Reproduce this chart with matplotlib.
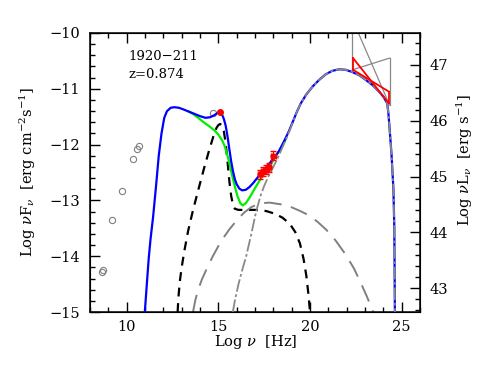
import matplotlib
matplotlib.use("Agg")
import matplotlib.pyplot as plt
from matplotlib.ticker import MultipleLocator

plt.rcParams['font.family'] = ['DejaVu Serif']
plt.rcParams['mathtext.fontset'] = 'dejavuserif'

# total model (blue)
tot_x = [10.99, 11.1, 11.2, 11.3, 11.44, 11.6, 11.75, 11.9, 12.05, 12.2, 12.4, 12.6, 12.85, 13.1,
         13.4, 13.7, 14.0, 14.3, 14.55, 14.8, 15.0, 15.1, 15.2, 15.3, 15.4, 15.5, 15.6, 15.7, 15.8,
         15.9, 16.0, 16.15, 16.3, 16.5, 16.7, 16.9, 17.24, 17.6, 17.96, 18.3, 18.6, 18.85, 19.05,
         19.3, 19.5, 19.8, 20.14, 20.5, 20.86, 21.2, 21.59, 21.95, 22.31, 22.7, 23.04, 23.4, 23.76,
         24.0, 24.21, 24.28, 24.35, 24.45, 24.55, 24.6, 24.63]
tot_y = [-15.0, -14.5, -14.05, -13.7, -13.3, -12.75, -12.2, -11.8, -11.52, -11.4, -11.34, -11.33,
         -11.34, -11.37, -11.41, -11.45, -11.49, -11.52, -11.51, -11.47, -11.42, -11.42, -11.46,
         -11.54, -11.66, -11.85, -12.08, -12.3, -12.48, -12.62, -12.71, -12.79, -12.82, -12.81,
         -12.76, -12.69, -12.55, -12.41, -12.27, -12.12, -11.93, -11.76, -11.6, -11.4, -11.26,
         -11.1, -10.96, -10.84, -10.74, -10.68, -10.65, -10.66, -10.70, -10.76, -10.84, -10.93,
         -11.05, -11.14, -11.26, -11.45, -11.75, -12.19, -12.8, -13.5, -15.0]

# synchrotron + disc (green), differs from total between 13.4 and 18.7
grn_x = [13.4, 13.62, 13.9, 14.2, 14.5, 14.8, 15.0, 15.2, 15.35, 15.5, 15.6, 15.75, 15.9, 16.05,
         16.2, 16.33, 16.5, 16.7, 17.0, 17.3, 17.6, 17.9, 18.2, 18.5, 18.7]
grn_y = [-11.41, -11.45, -11.52, -11.6, -11.67, -11.75, -11.82, -11.92, -12.03, -12.2, -12.33,
         -12.55, -12.75, -12.93, -13.05, -13.09, -13.05, -12.95, -12.78, -12.62, -12.48, -12.33,
         -12.18, -12.02, -11.89]

# accretion disc + corona (black dashed)
disk_x = [12.78, 12.82, 12.9, 13.0, 13.15, 13.35, 13.6, 13.9, 14.2, 14.5, 14.75, 14.9, 15.0, 15.1,
          15.2, 15.3, 15.4, 15.5, 15.6, 15.7, 15.8, 15.9, 16.1, 17.0, 17.6, 18.1, 18.5, 18.9, 19.2,
          19.45, 19.65, 19.8, 19.92, 20.0]
disk_y = [-15.0, -14.75, -14.45, -14.2, -13.9, -13.55, -13.2, -12.82, -12.45, -12.1, -11.83, -11.7,
          -11.65, -11.63, -11.66, -11.76, -11.97, -12.3, -12.65, -12.92, -13.08, -13.15, -13.17,
          -13.17, -13.19, -13.24, -13.31, -13.42, -13.57, -13.77, -14.05, -14.35, -14.7, -15.0]

# SSC (gray long dashes)
ssc_x = [13.62, 13.75, 13.9, 14.1, 14.4, 14.7, 15.0, 15.3, 15.6, 16.0, 16.4, 16.8, 17.3, 17.8, 18.4,
         18.9, 19.4, 19.9, 20.4, 20.9, 21.4, 21.9, 22.4, 22.8, 23.1, 23.45]
ssc_y = [-15.0, -14.78, -14.6, -14.42, -14.2, -14.0, -13.82, -13.66, -13.52, -13.36, -13.22, -13.12,
         -13.05, -13.04, -13.07, -13.11, -13.18, -13.26, -13.38, -13.53, -13.72, -13.95, -14.22,
         -14.5, -14.72, -15.0]

# external Compton (gray dash-dot)
ec_x = [15.79, 15.9, 16.1, 16.3, 16.52, 16.8, 17.06, 17.3, 17.5, 17.75, 18.0, 18.3, 18.6, 18.85,
        19.05, 19.3, 19.5, 19.8, 20.14, 20.5, 20.86, 21.2, 21.59, 21.95, 22.31, 22.7, 23.04, 23.4,
        23.76, 24.0, 24.21, 24.28, 24.35, 24.45, 24.55, 24.6, 24.63]
ec_y = [-15.0, -14.8, -14.5, -14.25, -14.0, -13.6, -13.2, -12.92, -12.74, -12.56, -12.4, -12.2,
        -11.97, -11.78, -11.61, -11.4, -11.26, -11.1, -10.96, -10.84, -10.74, -10.68, -10.65,
        -10.66, -10.70, -10.76, -10.84, -10.93, -11.05, -11.14, -11.26, -11.45, -11.75, -12.19,
        -12.8, -13.5, -15.0]

# archival data (open gray circles)
arch_x = [8.63, 8.69, 9.21, 9.72, 10.36, 10.59, 10.68, 14.7]
arch_y = [-14.28, -14.25, -13.35, -12.84, -12.25, -12.07, -12.02, -11.44]

# simultaneous data (red)
opt_x = [15.07]
opt_y = [-11.41]
x_x = [17.28, 17.45, 17.6, 17.75, 18.0]
x_y = [-12.53, -12.48, -12.45, -12.41, -12.2]
x_yerr = [0.08, 0.08, 0.08, 0.08, 0.08]
x_xerr = [0.12, 0.12, 0.12, 0.12, 0.12]

# gamma-ray bowties
gray_bt_x = [22.31, 24.34]
gray_bt_hi = [-9.75, -11.29]
gray_bt_lo = [-10.66, -10.45]
red_bt_x = [22.35, 24.3]
red_bt_hi = [-10.45, -11.26]
red_bt_lo = [-10.66, -11.05]

DL_OFFSET = 57.573

fig = plt.figure(figsize=(4.91, 3.82), dpi=100)
ax = fig.add_axes([90/491, 1-312/382, 330/491, 279/382])

ax.plot(grn_x, grn_y, color='#00ee00', lw=1.6, zorder=3)
ax.plot(disk_x, disk_y, color='black', lw=1.6, ls=(0, (4, 3)), zorder=2)
ax.plot(ssc_x, ssc_y, color='#808080', lw=1.4, ls=(0, (9, 5)), zorder=2)
ax.plot(tot_x, tot_y, color='#0000ff', lw=1.6, zorder=4)
ax.plot(ec_x, ec_y, color='#888888', lw=1.3, ls=(0, (7, 1.5, 1.5, 1.5)), zorder=5)

ax.plot(arch_x, arch_y, 'o', mfc='none', mec='#808080', ms=4.5, mew=0.8, zorder=3)
ax.plot(opt_x, opt_y, 'o', color='red', ms=4, zorder=6)
ax.errorbar(x_x, x_y, yerr=x_yerr, xerr=x_xerr, fmt='o', color='red', ms=3.5, lw=0.8,
            capsize=2, zorder=6)

# bowties
ax.plot([gray_bt_x[0], gray_bt_x[1]], [gray_bt_hi[0], gray_bt_hi[1]], color='#888888', lw=0.9, zorder=6)
ax.plot([gray_bt_x[0], gray_bt_x[1]], [gray_bt_lo[0], gray_bt_lo[1]], color='#888888', lw=0.9, zorder=6)
ax.plot([gray_bt_x[0], gray_bt_x[0]], [gray_bt_hi[0], gray_bt_lo[0]], color='#888888', lw=0.9, zorder=6)
ax.plot([gray_bt_x[1], gray_bt_x[1]], [gray_bt_hi[1], gray_bt_lo[1]], color='#888888', lw=0.9, zorder=6)
ax.plot([red_bt_x[0], red_bt_x[1]], [red_bt_hi[0], red_bt_hi[1]], color='red', lw=1.3, zorder=7)
ax.plot([red_bt_x[0], red_bt_x[1]], [red_bt_lo[0], red_bt_lo[1]], color='red', lw=1.3, zorder=7)
ax.plot([red_bt_x[0], red_bt_x[0]], [red_bt_hi[0], red_bt_lo[0]], color='red', lw=1.3, zorder=7)
ax.plot([red_bt_x[1], red_bt_x[1]], [red_bt_hi[1], red_bt_lo[1]], color='red', lw=1.3, zorder=7)

ax.set_xlim(8, 26)
ax.set_ylim(-15, -10)
ax.xaxis.set_major_locator(MultipleLocator(5))
ax.xaxis.set_minor_locator(MultipleLocator(1))
ax.yaxis.set_major_locator(MultipleLocator(1))
ax.yaxis.set_minor_locator(MultipleLocator(0.2))
ax.tick_params(which='both', direction='in', top=True, right=False, labelsize=10.5)
ax.tick_params(which='major', length=7, width=1)
ax.tick_params(which='minor', length=3.5, width=1)
ax.tick_params(axis='y', pad=7)
ax.tick_params(axis='x', pad=6)
for s in ax.spines.values():
    s.set_linewidth(1.1)

ax2 = ax.twinx()
ax2.set_ylim(-15 + DL_OFFSET, -10 + DL_OFFSET)
ax2.yaxis.set_major_locator(MultipleLocator(1))
ax2.yaxis.set_minor_locator(MultipleLocator(0.2))
ax2.tick_params(which='both', direction='in', labelsize=10.5, pad=7)
ax2.tick_params(which='major', length=7, width=1)
ax2.tick_params(which='minor', length=3.5, width=1)

ax.text(128/491, 1-57/382, '1920\u2212211', transform=fig.transFigure, fontsize=9.5, va='center', ha='left')
ax.text(128/491, 1-74/382, 'z=0.874', transform=fig.transFigure, fontsize=9.5, va='center', ha='left')

fig.text(256/491, 1-342/382, r'Log $\nu$  [Hz]', ha='center', va='center', fontsize=10.5)
fig.text(28/491, 1-172/382, r'Log $\nu$F$_\nu$  [erg cm$^{-2}$s$^{-1}$]', ha='center', va='center',
         rotation=90, fontsize=10.5)
fig.text(465/491, 1-160/382, r'Log $\nu$L$_\nu$  [erg s$^{-1}$]', ha='center', va='center',
         rotation=90, fontsize=10.5)

fig.savefig('out.png', dpi=100)
